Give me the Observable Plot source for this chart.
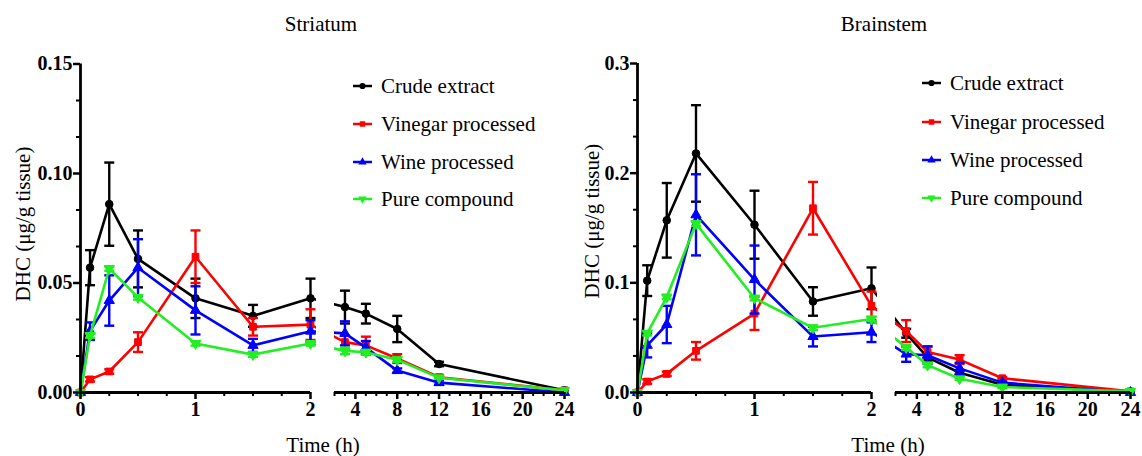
<!DOCTYPE html>
<html><head><meta charset="utf-8">
<script src="https://cdn.jsdelivr.net/npm/d3@7"></script>
<script src="https://cdn.jsdelivr.net/npm/@observablehq/plot@0.6"></script>
<style>
body{margin:0;background:#fff;}
#fig{position:relative;width:1142px;height:456px;overflow:hidden;background:#fff;}
#fig > svg{position:absolute;top:0;}
#overlay{position:absolute;left:0;top:0;pointer-events:none;font-family:"Liberation Serif","Times New Roman",serif;}
</style></head>
<body><div id="fig"></div>
<script>
// ---------- data ----------
const times = [0, 0.083, 0.25, 0.5, 1, 1.5, 2, 3, 5, 8, 12, 24];
const seriesNames = ["Crude extract", "Vinegar processed", "Wine processed", "Pure compound"];
const seriesColors = ["#000000", "#ff0000", "#0000ff", "#22ee22"];
const seriesSymbols = ["circle", "square", "triangle", "triangle"];
const panelTitles = ["Striatum", "Brainstem"];

// Striatum (mean, SD)
const striatumCrude     = [0, 0.057, 0.086, 0.061, 0.043, 0.035, 0.043, 0.039, 0.036, 0.029, 0.013, 0.001];
const striatumCrudeSD   = [0, 0.008, 0.019, 0.013, 0.009, 0.005, 0.009, 0.0075, 0.0045, 0.006, 0.001, 0];
const striatumVinegar   = [0, 0.006, 0.0096, 0.023, 0.062, 0.030, 0.031, 0.023, 0.0215, 0.0155, 0.007, 0.001];
const striatumVinegarSD = [0, 0.001, 0.001, 0.0045, 0.012, 0.004, 0.007, 0.003, 0.004, 0.002, 0.001, 0];
const striatumWine      = [0, 0.028, 0.042, 0.057, 0.0375, 0.0215, 0.028, 0.027, 0.0205, 0.010, 0.0045, 0];
const striatumWineSD    = [0, 0.004, 0.0115, 0.013, 0.011, 0.003, 0.005, 0.0055, 0.003, 0.001, 0.001, 0];
const striatumPure      = [0, 0.026, 0.0566, 0.0434, 0.0224, 0.0173, 0.0224, 0.019, 0.0184, 0.015, 0.0067, 0.001];
const striatumPureSD    = [0, 0.001, 0.001, 0.001, 0.001, 0.001, 0.001, 0.0015, 0.001, 0.001, 0.0005, 0];

// Brainstem (mean, SD)
const brainCrude     = [0, 0.102, 0.157, 0.218, 0.153, 0.083, 0.095, 0.054, 0.032, 0.018, 0.007, 0.0005];
const brainCrudeSD   = [0, 0.014, 0.034, 0.044, 0.031, 0.013, 0.019, 0.004, 0.003, 0.002, 0.001, 0];
const brainVinegar   = [0, 0.010, 0.017, 0.038, 0.072, 0.168, 0.079, 0.056, 0.037, 0.030, 0.013, 0.001];
const brainVinegarSD = [0, 0.002, 0.002, 0.008, 0.015, 0.024, 0.013, 0.010, 0.005, 0.004, 0.001, 0];
const brainWine      = [0, 0.043, 0.062, 0.162, 0.103, 0.051, 0.055, 0.035, 0.034, 0.022, 0.009, 0];
const brainWineSD    = [0, 0.011, 0.017, 0.037, 0.031, 0.009, 0.009, 0.007, 0.008, 0.005, 0.001, 0];
const brainPure      = [0, 0.054, 0.087, 0.154, 0.086, 0.059, 0.067, 0.041, 0.025, 0.0125, 0.005, 0.001];
const brainPureSD    = [0, 0.002, 0.002, 0.002, 0.002, 0.002, 0.002, 0.002, 0.002, 0.001, 0.001, 0];

const xMajorTicks = [0, 1, 2, 4, 8, 12, 16, 20, 24];
const striatumYTicks = [0, 0.05, 0.10, 0.15];
const brainYTicks = [0, 0.1, 0.2, 0.3];

// ---------- layout ----------
const BREAK_A = 2, BREAK_B = 2.0001; // broken time axis: [0,2] | [2,24]
const W = 571, H = 456;
const panels = [
  {title: panelTitles[0], left: 0, marginLeft: 80, marginTop: 63.5, marginBottom: 64,
   xRange: [80, 310, 334, 564], yMax: 0.15, yTicks: striatumYTicks, fmt: ".2f",
   data: [[striatumCrude, striatumCrudeSD], [striatumVinegar, striatumVinegarSD], [striatumWine, striatumWineSD], [striatumPure, striatumPureSD]]},
  {title: panelTitles[1], left: 571, marginLeft: 66, marginTop: 63, marginBottom: 64,
   xRange: [66, 300, 324, 559], yMax: 0.3, yTicks: brainYTicks, fmt: ".1f",
   data: [[brainCrude, brainCrudeSD], [brainVinegar, brainVinegarSD], [brainWine, brainWineSD], [brainPure, brainPureSD]]}
];

const capSymbol = {draw(ctx, size) { const r = Math.sqrt(size / Math.PI); ctx.moveTo(-r, 0); ctx.lineTo(r, 0); }};
const fig = document.getElementById("fig");

for (const p of panels) {
  const rows = [];
  seriesNames.forEach((s, i) => times.forEach((t, j) =>
    rows.push({series: s, t, mean: p.data[i][0][j], sd: p.data[i][1][j]})));
  const marks = [];
  for (const s of seriesNames) {
    const r = rows.filter(d => d.series === s);
    const e = r.filter(d => d.sd > 0);
    marks.push(
      Plot.line(r, {x: "t", y: "mean", stroke: "series", strokeWidth: 2.6}),
      Plot.ruleX(e, {x: "t", y1: d => d.mean - d.sd, y2: d => d.mean + d.sd, stroke: "series", strokeWidth: 2.4}),
      Plot.dot(e, {x: "t", y: d => d.mean + d.sd, symbol: capSymbol, r: 5, stroke: "series", fill: "none", strokeWidth: 2.4}),
      Plot.dot(e, {x: "t", y: d => d.mean - d.sd, symbol: capSymbol, r: 5, stroke: "series", fill: "none", strokeWidth: 2.4}),
      Plot.dot(r, {x: "t", y: "mean", symbol: "series", r: 3.8, fill: "series", stroke: "series", strokeWidth: 1,
                   rotate: d => d.series === "Pure compound" ? 180 : 0})
    );
  }
  const minorX = d3.range(0.25, 2, 0.25).filter(t => t % 1 !== 0)
    .concat([BREAK_B], d3.range(3, 24, 1).filter(t => t % 4 !== 0));
  const step = (p.yTicks[1] - p.yTicks[0]) / 3;
  const minorY = d3.range(1, Math.round(p.yMax / step)).filter(k => k % 3 !== 0).map(k => k * step);
  marks.push(
    // hide the lines inside the axis break
    Plot.rect({length: 1}, {x1: BREAK_A, x2: BREAK_B, fill: "white", insetLeft: 6}),
    Plot.ruleX([0], {stroke: "black", strokeWidth: 2.8}),
    Plot.ruleY([0], {x1: 0, x2: BREAK_A, stroke: "black", strokeWidth: 2.8}),
    Plot.ruleY([0], {x1: BREAK_B, x2: 24, stroke: "black", strokeWidth: 2.8}),
    Plot.axisY(p.yTicks, {tickSize: 7, tickPadding: 1, tickFormat: p.fmt, strokeWidth: 2.5, label: null,
                         fontSize: 20, fontWeight: "bold", fontFamily: "Liberation Serif"}),
    Plot.axisY(minorY, {tickSize: 4, tickFormat: () => "", strokeWidth: 2, label: null}),
    Plot.axisX(xMajorTicks, {tickSize: 7, tickPadding: 2, tickFormat: d => String(d), strokeWidth: 2.5, label: null,
                            fontSize: 20, fontWeight: "bold", fontFamily: "Liberation Serif"}),
    Plot.axisX(minorX, {tickSize: 4, tickFormat: () => "", strokeWidth: 2, label: null})
  );
  const chart = Plot.plot({
    width: W, height: H,
    marginLeft: p.marginLeft, marginTop: p.marginTop, marginBottom: p.marginBottom, marginRight: 4,
    x: {type: "linear", domain: [0, BREAK_A, BREAK_B, 24], range: p.xRange, label: null},
    y: {domain: [0, p.yMax], label: null},
    color: {domain: seriesNames, range: seriesColors},
    symbol: {domain: seriesNames, range: seriesSymbols},
    style: {fontFamily: "Liberation Serif", fontSize: "20px", fontWeight: "bold", color: "black", background: "transparent", overflow: "visible"},
    marks
  });
  chart.style.left = p.left + "px";
  fig.appendChild(chart);
}

// ---------- overlay: titles, axis labels, legends ----------
const NS = "http://www.w3.org/2000/svg";
const ov = document.createElementNS(NS, "svg");
ov.setAttribute("id", "overlay");
ov.setAttribute("width", 1142); ov.setAttribute("height", 456);
fig.appendChild(ov);
function txt(x, y, s, opts = {}) {
  const t = document.createElementNS(NS, "text");
  t.setAttribute("x", x); t.setAttribute("y", y);
  t.setAttribute("font-size", opts.size || 21);
  t.setAttribute("text-anchor", opts.anchor || "start");
  if (opts.rotate) t.setAttribute("transform", `rotate(${opts.rotate},${x},${y})`);
  if (opts.baseline) t.setAttribute("dominant-baseline", opts.baseline);
  t.setAttribute("fill", "black");
  t.textContent = s;
  ov.appendChild(t);
}
const overlayLayout = [
  {titleX: 321, ylabX: 23, ylabY: 224, xlabX: 323, legX: 353, legRows: [86, 124, 162, 199]},
  {titleX: 884, ylabX: 592, ylabY: 221, xlabX: 888, legX: 922, legRows: [83, 122, 160, 198]}
];
overlayLayout.forEach((o, pi) => {
  txt(o.titleX, 31, panelTitles[pi], {anchor: "middle"});
  txt(o.ylabX, o.ylabY, "DHC (μg/g tissue)", {anchor: "middle", rotate: -90, baseline: "central"});
  txt(o.xlabX, 452, "Time (h)", {anchor: "middle"});
  seriesNames.forEach((s, i) => {
    const y = o.legRows[i];
    const ln = document.createElementNS(NS, "line");
    ln.setAttribute("x1", o.legX); ln.setAttribute("x2", o.legX + 19);
    ln.setAttribute("y1", y); ln.setAttribute("y2", y);
    ln.setAttribute("stroke", seriesColors[i]); ln.setAttribute("stroke-width", 2.5);
    ov.appendChild(ln);
    const sym = d3.symbol().type({circle: d3.symbolCircle, square: d3.symbolSquare, triangle: d3.symbolTriangle}[seriesSymbols[i]]).size(30)();
    const path = document.createElementNS(NS, "path");
    path.setAttribute("d", sym);
    path.setAttribute("fill", seriesColors[i]);
    path.setAttribute("transform", `translate(${o.legX + 9.5},${y})` + (i === 3 ? " rotate(180)" : ""));
    ov.appendChild(path);
    txt(o.legX + 28, y + 7, s);
  });
});
</script>
</body></html>
